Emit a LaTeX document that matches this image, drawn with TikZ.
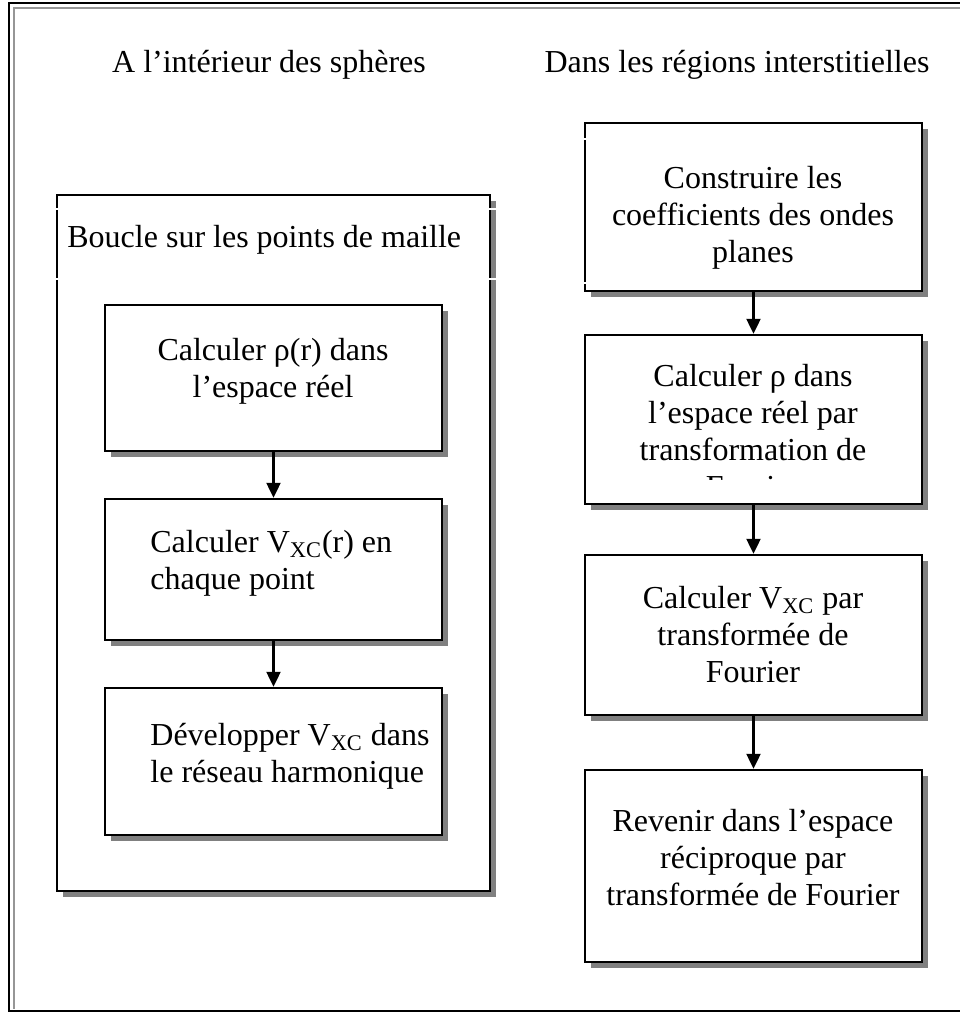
\documentclass[tikz,border=0pt]{standalone}
\usepackage{fontspec}
\setmainfont{Liberation Serif}
\usetikzlibrary{arrows.meta,fit,shadows,positioning}
\definecolor{shadowgray}{RGB}{128,128,128}
\definecolor{framegray}{RGB}{150,150,150}

\tikzset{
  stepbox/.style={draw, line width=1.2pt, fill=white, inner sep=0pt,
    drop shadow={shadow xshift=2.8pt, shadow yshift=-2.8pt, fill=shadowgray, opacity=1}},
  boxtext/.style={font=\fontsize{16}{18.4}\selectfont, align=center, inner sep=0pt, anchor=base},
  flow/.style={-{Triangle[width=7pt,length=7.5pt]}, line width=1.1pt},
}

\begin{document}
\begin{tikzpicture}[x=0.5pt,y=-0.5pt]
  \useasboundingbox (0,0) rectangle (960,1014);

  % page frame
  \draw[line width=1.2pt] (960,3) -- (9,3) -- (9,1011) -- (960,1011);
  \draw[framegray, line width=0.8pt] (960,8) -- (14,8) -- (14,1009);

  % titles
  \node[boxtext] (titleA) at (269,72) {A l'intérieur des sphères};
  \node[boxtext] (titleB) at (737,72) {Dans les régions interstitielles};

  % left column (base = last line)
  \node[stepbox, fit={(57,195) (490,891)}] (loop) {};
  \node[stepbox, fit={(105,305) (442,451)}] (rho) {};
  \node[stepbox, fit={(105,499) (442,640)}] (vxc) {};
  \node[stepbox, fit={(105,688) (442,835)}] (harm) {};

  \node[boxtext, anchor=base west] (looptext) at (67,247) {Boucle sur les points de maille};
  \node[boxtext] (rhotext) at (273,397) {Calculer ρ(r) dans\\l'espace réel};
  \node[boxtext, anchor=base west, align=left] (vxctext) at (150,589)
    {Calculer V\textsubscript{XC}(r) en\\chaque point};
  \node[boxtext, anchor=base west, align=left] (harmtext) at (150,782)
    {Développer V\textsubscript{XC} dans\\le réseau harmonique};

  \draw[flow] (rho) -- (vxc);
  \draw[flow] (vxc) -- (harm);

  % right column
  \node[stepbox, fit={(585,123) (922,291)}] (coef) {};
  \node[stepbox, fit={(585,335) (922,504)}] (rhofft) {};
  \node[stepbox, fit={(585,555) (922,715)}] (vxcfft) {};
  \node[stepbox, fit={(585,770) (922,962)}] (back) {};

  \node[boxtext] (coeftext) at (753,262) {Construire les\\coefficients des ondes\\planes};
  \begin{scope}
    \clip (585,335) rectangle (922,479);
    \node[boxtext] (rhoffttext) at (753,497)
      {Calculer ρ dans\\l'espace réel par\\transformation de\\Fourier};
  \end{scope}
  \node[boxtext] (vxcffttext) at (753,682) {Calculer V\textsubscript{XC} par\\transformée de\\Fourier};
  \node[boxtext] (backtext) at (753,905) {Revenir dans l'espace\\réciproque par\\transformée de Fourier};

  \draw[flow] (coef) -- (rhofft);
  \draw[flow] (rhofft) -- (vxcfft);
  \draw[flow] (vxcfft) -- (back);

  % small breaks in the frames
  \foreach \gx/\gy in {57/209, 57/279, 490/209, 490/279, 585/139, 585/283}
    \draw[white, line width=1pt] (\gx-2,\gy) -- (\gx+8,\gy);
\end{tikzpicture}
\end{document}
